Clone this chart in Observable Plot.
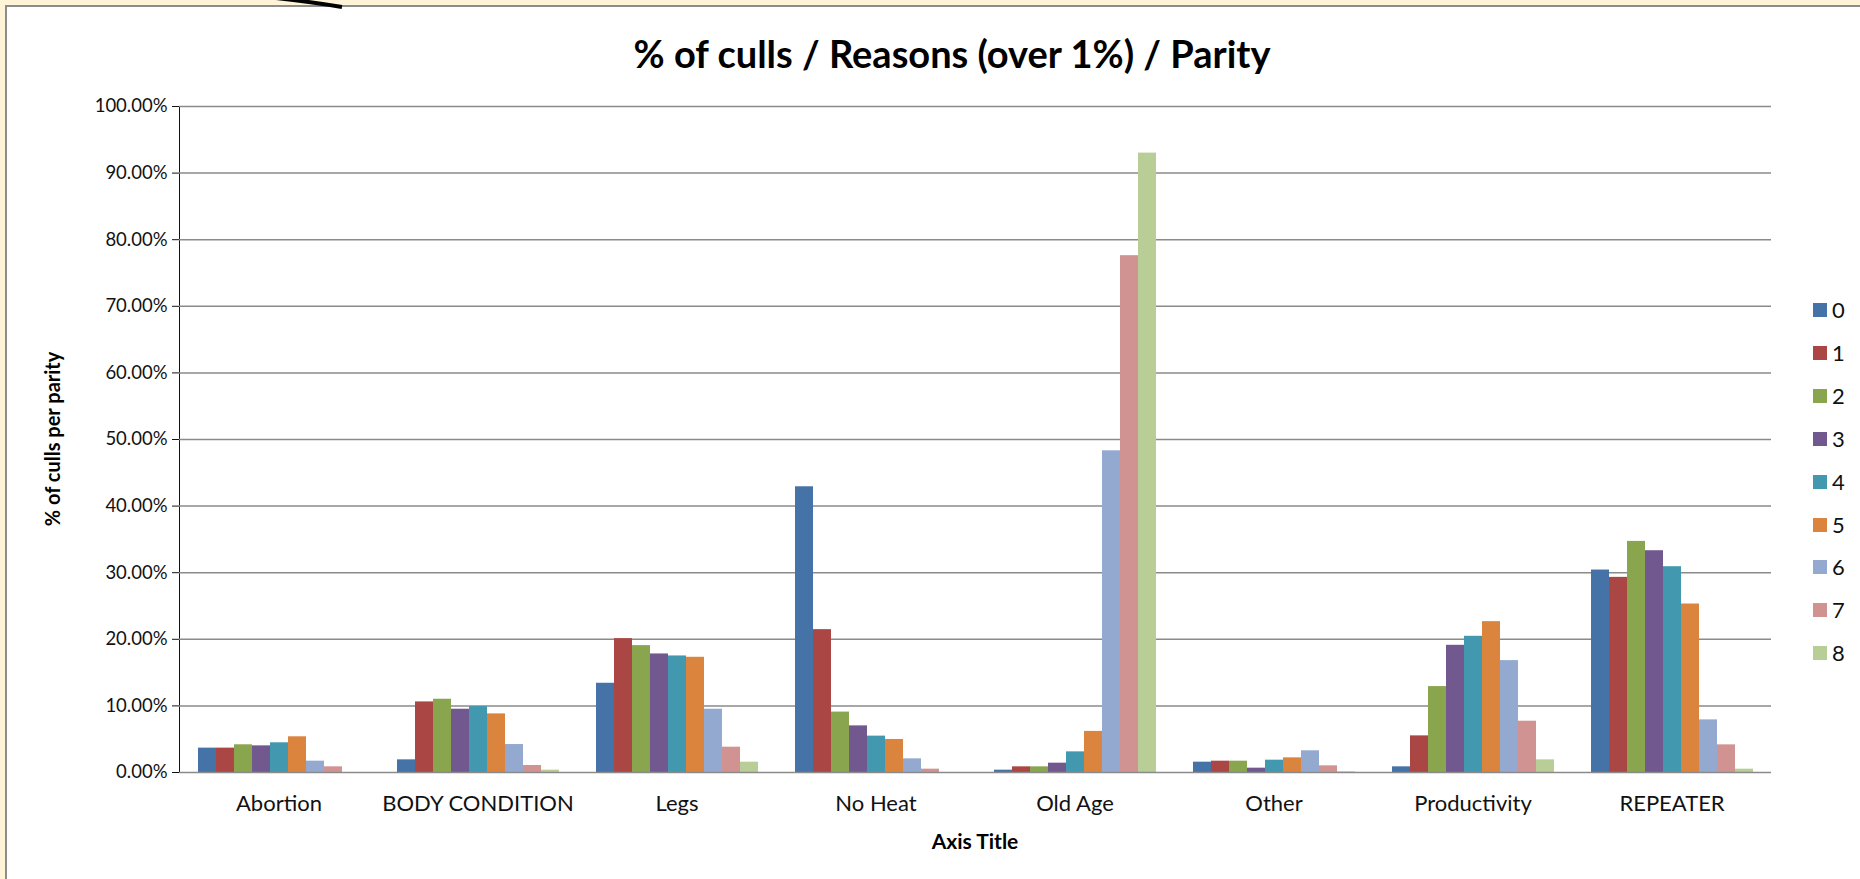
<!DOCTYPE html>
<html>
<head>
<meta charset="utf-8">
<script src="https://cdn.jsdelivr.net/npm/d3@7"></script>
<script src="https://cdn.jsdelivr.net/npm/@observablehq/plot@0.6"></script>
<style>
  html, body { margin: 0; padding: 0; }
  body { width: 1860px; height: 879px; background: #FFF3D8; position: relative; overflow: hidden; font-family: Lato, "Open Sans", sans-serif; }
  #panel { position: absolute; left: 5px; top: 5px; right: 0; bottom: 0; background: #fff; border-left: 2px solid #8c8c8c; border-top: 2px solid #8c8c8c; }
  #chart { position: absolute; left: 0; top: 0; }
  #chart svg { background: transparent !important; }
  #chart [aria-label^="fx-axis"] text { font-size: 22px; fill: #111; }
  #chart [aria-label^="y-axis"] text { font-size: 18.5px; fill: #111; }
  #title { position: absolute; left: 952px; top: 53px; transform: translate(-50%, -50%); font-weight: 700; font-size: 38px; color: #000; white-space: nowrap; }
  #ytitle { position: absolute; left: 52px; top: 439px; transform: translate(-50%, -50%) rotate(-90deg); font-weight: 700; font-size: 20px; color: #000; white-space: nowrap; }
  #xtitle { position: absolute; left: 975px; top: 840px; transform: translate(-50%, -50%); font-weight: 700; font-size: 21px; color: #000; white-space: nowrap; }
  #legend { position: absolute; left: 1813px; top: 310px; }
  .row { position: absolute; left: 0; height: 0; white-space: nowrap; }
  .sw { position: absolute; left: 0; top: -7px; width: 14px; height: 14px; }
  .lb { position: absolute; left: 19px; top: -13px; font-size: 22px; line-height: 26px; color: #111; }
  #deco { position: absolute; left: 0; top: 0; }
</style>
</head>
<body>
<div id="panel"></div>
<div id="chart"></div>
<svg id="deco" width="400" height="14"><path d="M276,-2 Q312,2 342,7" fill="none" stroke="#000" stroke-width="4"/></svg>
<div id="title">% of culls / Reasons (over 1%) / Parity</div>
<div id="ytitle">% of culls per parity</div>
<div id="xtitle">Axis Title</div>
<div id="legend"></div>
<script>
// Categories (reasons) and parity series
const categories = ["Abortion", "BODY CONDITION", "Legs", "No Heat", "Old Age", "Other", "Productivity", "REPEATER"];
const parities = ["0", "1", "2", "3", "4", "5", "6", "7", "8"];

// % of culls per parity, one array per parity, in category order
const parity0 = [3.66, 1.9, 13.4, 42.9, 0.35, 1.55, 0.85, 30.4];
const parity1 = [3.66, 10.6, 20.1, 21.45, 0.85, 1.7, 5.5, 29.3];
const parity2 = [4.16, 11.0, 19.05, 9.07, 0.85, 1.7, 12.9, 34.7];
const parity3 = [4.0, 9.5, 17.8, 7.0, 1.4, 0.65, 19.1, 33.3];
const parity4 = [4.46, 9.9, 17.5, 5.46, 3.1, 1.85, 20.45, 30.9];
const parity5 = [5.36, 8.8, 17.3, 4.96, 6.17, 2.2, 22.65, 25.3];
const parity6 = [1.7, 4.2, 9.5, 2.05, 48.3, 3.26, 16.8, 7.9];
const parity7 = [0.85, 1.05, 3.8, 0.5, 77.6, 1.0, 7.7, 4.15];
const parity8 = [0, 0.35, 1.55, 0, 93.0, 0.1, 1.9, 0.5];

const yTicks = [0, 10, 20, 30, 40, 50, 60, 70, 80, 90, 100];
const colors = ["#4572A7", "#AA4643", "#89A54E", "#71588F", "#4198AF", "#DB843D", "#93A9CF", "#D19392", "#B9CD96"];

const seriesValues = [parity0, parity1, parity2, parity3, parity4, parity5, parity6, parity7, parity8];
const table = [];
categories.forEach((c, ci) => {
  parities.forEach((p, pi) => {
    table.push({cat: c, parity: p, value: seriesValues[pi][ci]});
  });
});

const chart = Plot.plot({
  width: 1860,
  height: 879,
  marginLeft: 175,
  marginRight: 86,
  marginTop: 106,
  marginBottom: 107,
  style: {fontFamily: "Lato, 'Open Sans', sans-serif", background: "transparent", color: "#111"},
  facet: {data: table, x: "cat"},
  fx: {domain: categories, padding: 0, label: null, tickSize: 0, tickPadding: 23},
  x: {domain: parities, axis: null, paddingInner: 0, paddingOuter: 0.75},
  y: {domain: [0, 100], ticks: yTicks, tickFormat: d => d.toFixed(2) + "%", tickSize: 7, tickPadding: 5, label: null, line: true},
  color: {domain: parities, range: colors},
  marks: [
    Plot.ruleY(yTicks.slice(1), {stroke: "#8a8a8a", strokeWidth: 1.5}),
    Plot.barY(table, {x: "parity", y: "value", fill: "parity"}),
    Plot.ruleY([0], {stroke: "#8a8a8a", strokeWidth: 1.5})
  ]
});
document.getElementById("chart").appendChild(chart);

// Vertical legend built from the chart's color scale
const cs = chart.scale("color");
const legend = document.getElementById("legend");
cs.domain.forEach((d, i) => {
  const row = document.createElement("div");
  row.className = "row";
  row.style.top = (i * 42.9) + "px";
  row.innerHTML = `<div class="sw" style="background:${cs.range[i]}"></div><div class="lb">${d}</div>`;
  legend.appendChild(row);
});
</script>
</body>
</html>
